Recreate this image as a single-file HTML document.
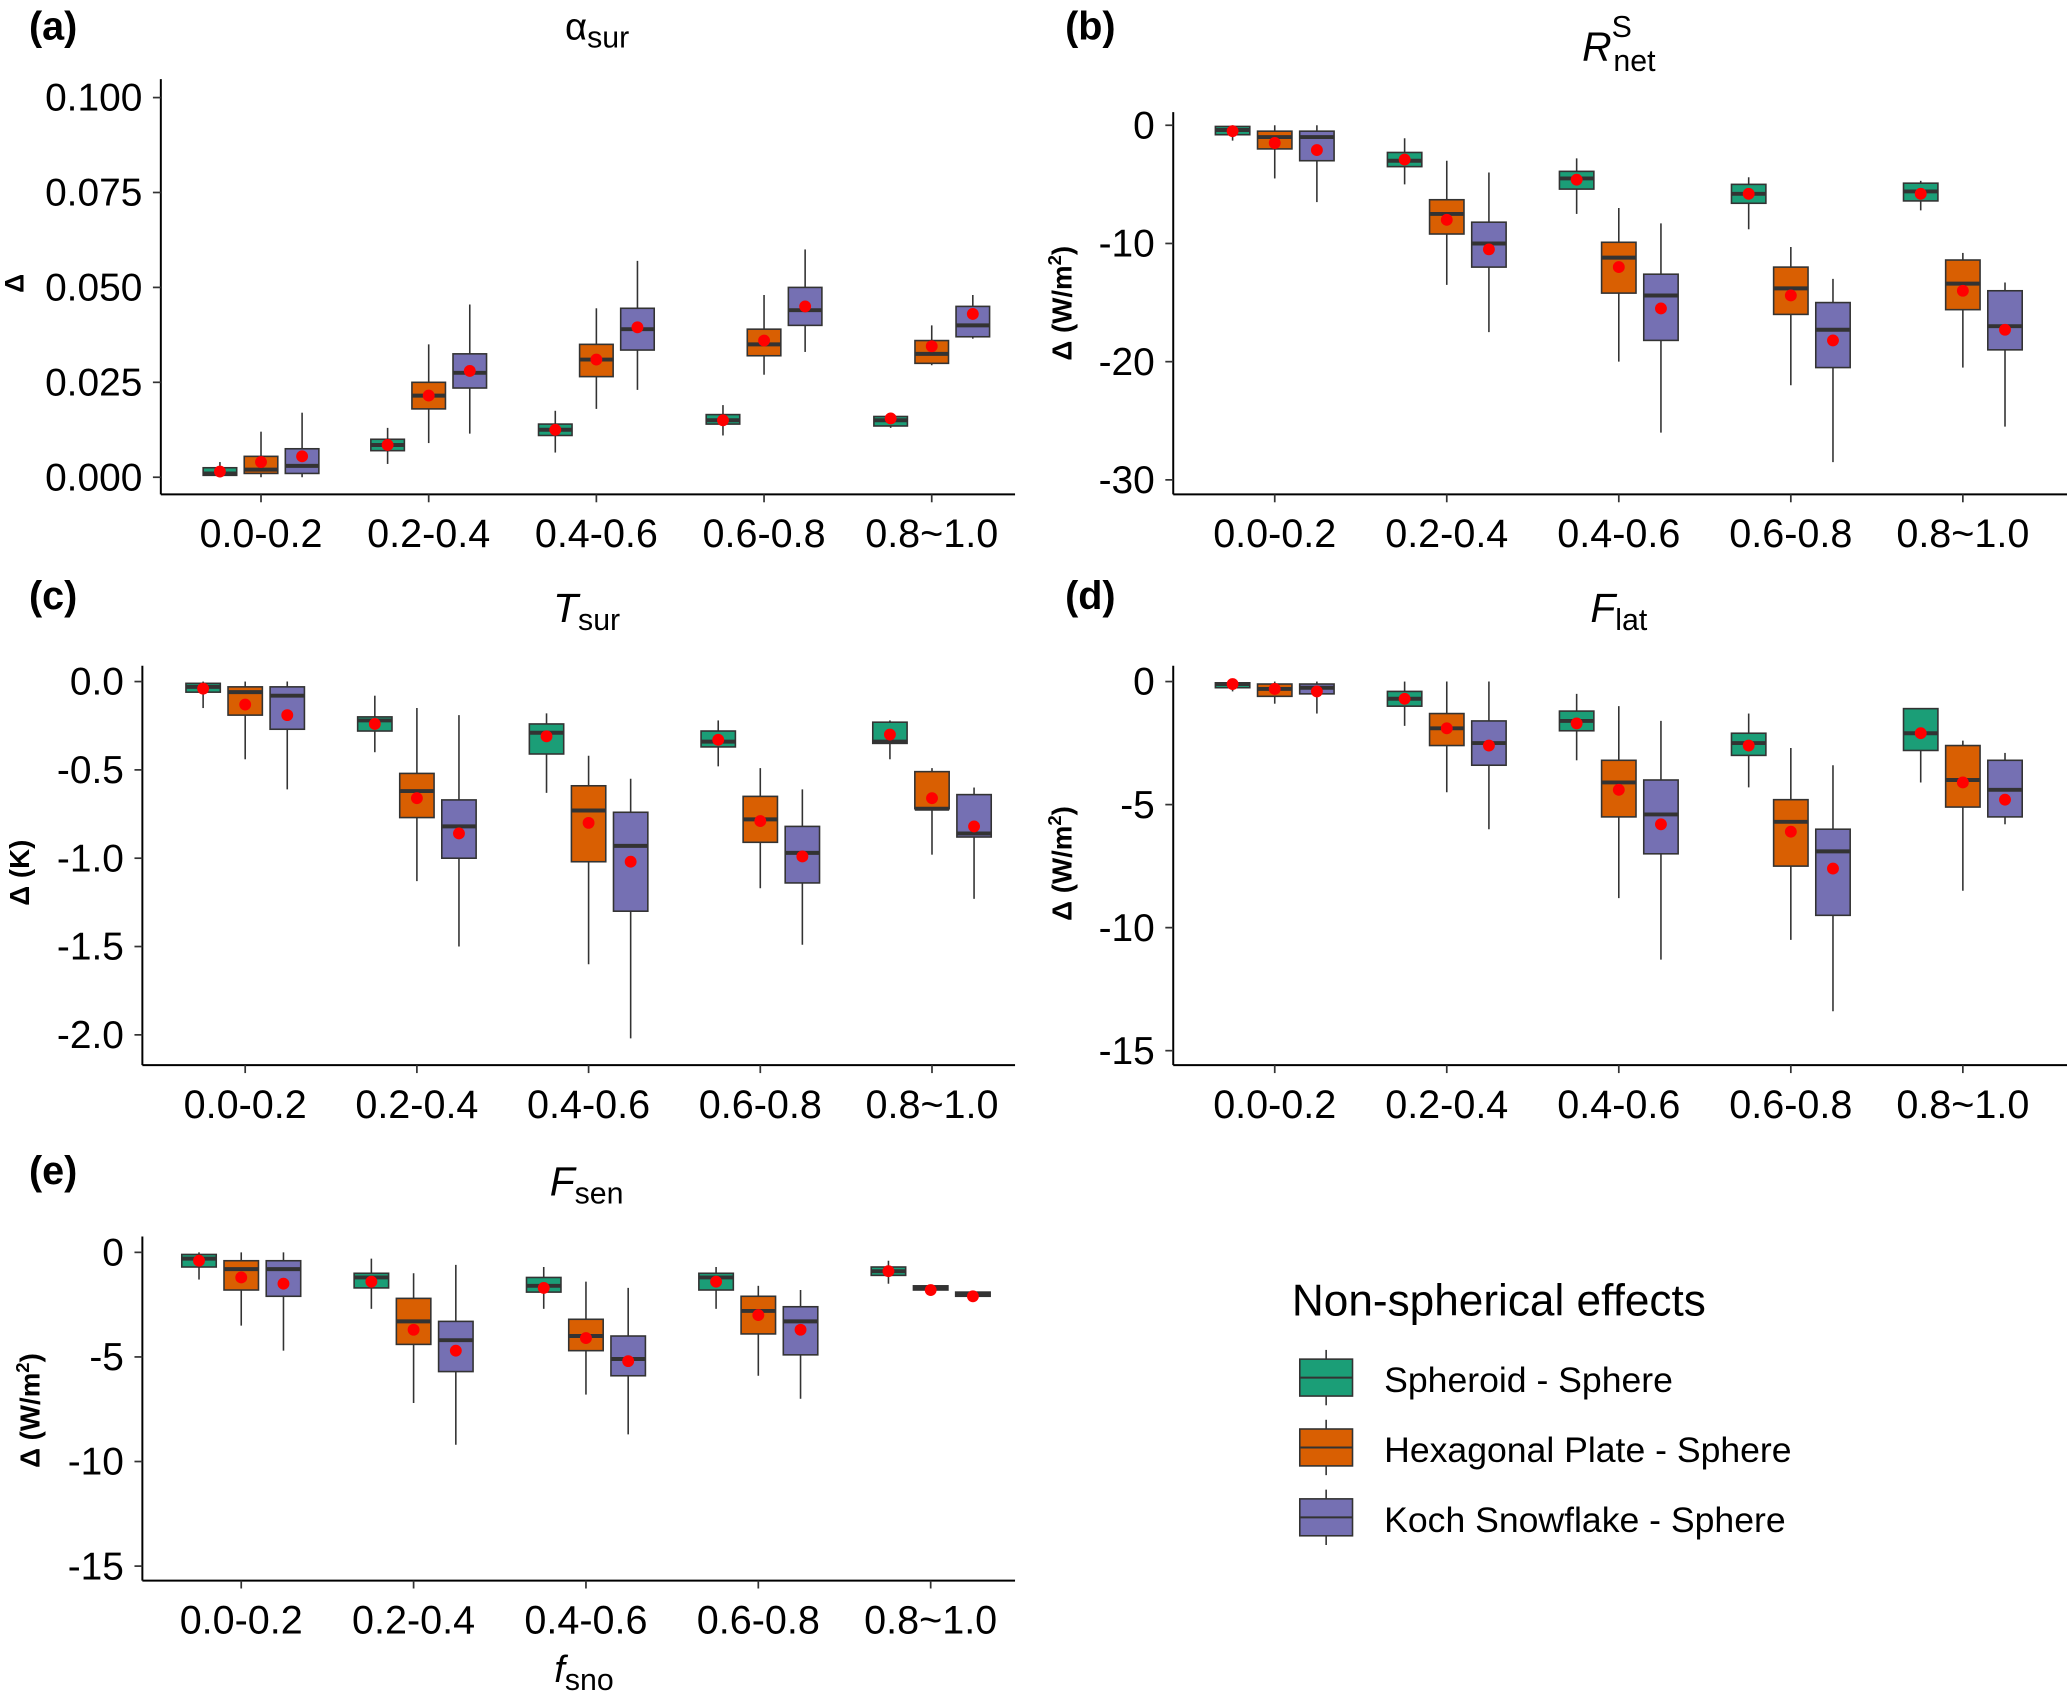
<!DOCTYPE html>
<html><head><meta charset="utf-8"><style>
html,body{margin:0;padding:0;background:#fff}
svg{display:block}
text{font-family:"Liberation Sans",sans-serif;fill:#000}
</style></head><body>
<svg id="fig" xmlns="http://www.w3.org/2000/svg" width="2067" height="1694" viewBox="0 0 1568 1285">
<g id="static">
<text x="22" y="30" font-size="30" font-weight="bold">(a)</text>
<text x="808" y="30" font-size="30" font-weight="bold">(b)</text>
<text x="22" y="462" font-size="30" font-weight="bold">(c)</text>
<text x="808" y="462" font-size="30" font-weight="bold">(d)</text>
<text x="22" y="898" font-size="30" font-weight="bold">(e)</text>
<text x="453" y="30" font-size="29" text-anchor="middle">α<tspan font-size="23" dy="6">sur</tspan></text>
<text x="1228" y="46" font-size="31" text-anchor="middle"><tspan font-style="italic">R</tspan><tspan font-size="23" dy="-18">S</tspan><tspan font-size="23" dx="-14" dy="26">net</tspan></text>
<text x="445" y="472" font-size="31" text-anchor="middle"><tspan font-style="italic">T</tspan><tspan font-size="23" dy="6">sur</tspan></text>
<text x="1228" y="472" font-size="31" text-anchor="middle"><tspan font-style="italic">F</tspan><tspan font-size="23" dy="6">lat</tspan></text>
<text x="445" y="907" font-size="31" text-anchor="middle"><tspan font-style="italic">F</tspan><tspan font-size="23" dy="6">sen</tspan></text>
<text x="443" y="1276" font-size="29" text-anchor="middle"><tspan font-style="italic">f</tspan><tspan font-size="23" dy="6">sno</tspan></text>
<text transform="translate(18,215) rotate(-90)" font-size="20" font-weight="bold" text-anchor="middle">Δ</text>
<text transform="translate(813,230) rotate(-90)" font-size="21" font-weight="bold" text-anchor="middle">Δ (W/m<tspan font-size="14" dy="-8">2</tspan><tspan dy="8">)</tspan></text>
<text transform="translate(22,662) rotate(-90)" font-size="21" font-weight="bold" text-anchor="middle">Δ (K)</text>
<text transform="translate(813,655) rotate(-90)" font-size="21" font-weight="bold" text-anchor="middle">Δ (W/m<tspan font-size="14" dy="-8">2</tspan><tspan dy="8">)</tspan></text>
<text transform="translate(30,1070) rotate(-90)" font-size="21" font-weight="bold" text-anchor="middle">Δ (W/m<tspan font-size="14" dy="-8">2</tspan><tspan dy="8">)</tspan></text>
<g>
<text x="980" y="998" font-size="33.5">Non-spherical effects</text>
<g>
<line x1="1006" y1="1024" x2="1006" y2="1066" stroke="#333" stroke-width="1.2"/>
<rect x="986" y="1031" width="40" height="28" fill="#1b9e77" stroke="#333" stroke-width="1.2"/>
<line x1="986" y1="1045" x2="1026" y2="1045" stroke="#333" stroke-width="1.5"/>
<text x="1050" y="1056" font-size="27">Spheroid - Sphere</text></g>
<g>
<line x1="1006" y1="1077" x2="1006" y2="1119" stroke="#333" stroke-width="1.2"/>
<rect x="986" y="1084" width="40" height="28" fill="#d95f02" stroke="#333" stroke-width="1.2"/>
<line x1="986" y1="1098" x2="1026" y2="1098" stroke="#333" stroke-width="1.5"/>
<text x="1050" y="1109" font-size="27">Hexagonal Plate - Sphere</text></g>
<g>
<line x1="1006" y1="1130" x2="1006" y2="1172" stroke="#333" stroke-width="1.2"/>
<rect x="986" y="1137" width="40" height="28" fill="#7570b3" stroke="#333" stroke-width="1.2"/>
<line x1="986" y1="1151" x2="1026" y2="1151" stroke="#333" stroke-width="1.5"/>
<text x="1050" y="1162" font-size="27">Koch Snowflake - Sphere</text></g>
</g>
</g>
</svg>
<script>
// categories and series: each stat = [lowWhisker, q1, median, q3, highWhisker, mean]
const categories = ["0.0-0.2","0.2-0.4","0.4-0.6","0.6-0.8","0.8~1.0"];
const seriesNames = ["spheroid","hexagonal","koch"];
const seriesColors = ["#1b9e77","#d95f02","#7570b3"];

const aSpheroid = [[0,0.0005,0.001,0.0025,0.004,0.0015],[0.0035,0.007,0.0085,0.010,0.013,0.0085],[0.0065,0.011,0.0125,0.014,0.0175,0.0125],[0.011,0.014,0.015,0.0165,0.019,0.015],[0.013,0.0135,0.015,0.016,0.017,0.0155]];
const aHexagonal = [[0,0.001,0.002,0.0055,0.012,0.004],[0.009,0.018,0.0215,0.025,0.035,0.0215],[0.018,0.0265,0.031,0.035,0.0445,0.031],[0.027,0.032,0.035,0.039,0.048,0.036],[0.0295,0.030,0.0325,0.036,0.040,0.0345]];
const aKoch = [[0,0.001,0.003,0.0075,0.017,0.0055],[0.0115,0.0235,0.0275,0.0325,0.0455,0.028],[0.023,0.0335,0.039,0.0445,0.057,0.0395],[0.033,0.040,0.044,0.050,0.060,0.045],[0.0365,0.037,0.040,0.045,0.048,0.043]];
const aTicks = [0,0.025,0.05,0.075,0.1];
const aTickLabels = ["0.000","0.025","0.050","0.075","0.100"];

const bSpheroid = [[-1.3,-0.8,-0.4,-0.1,0,-0.5],[-5,-3.5,-3.0,-2.3,-1.1,-2.9],[-7.5,-5.4,-4.5,-3.9,-2.8,-4.6],[-8.8,-6.6,-5.8,-5.0,-4.4,-5.8],[-7.2,-6.4,-5.6,-4.9,-4.7,-5.8]];
const bHexagonal = [[-4.5,-2.0,-1.0,-0.5,0,-1.5],[-13.5,-9.2,-7.5,-6.3,-3.0,-8.0],[-20,-14.2,-11.2,-9.9,-7,-12],[-22,-16,-13.8,-12,-10.3,-14.4],[-20.5,-15.6,-13.4,-11.4,-10.8,-14]];
const bKoch = [[-6.5,-3.0,-1.0,-0.5,0,-2.1],[-17.5,-12,-10,-8.2,-4,-10.5],[-26,-18.2,-14.4,-12.6,-8.3,-15.5],[-28.5,-20.5,-17.3,-15,-13,-18.2],[-25.5,-19,-17,-14,-13.3,-17.3]];
const bTicks = [-30,-20,-10,0];
const bTickLabels = ["-30","-20","-10","0"];

const cSpheroid = [[-0.15,-0.06,-0.03,-0.01,0,-0.04],[-0.4,-0.28,-0.22,-0.2,-0.08,-0.24],[-0.63,-0.41,-0.29,-0.24,-0.18,-0.31],[-0.48,-0.37,-0.34,-0.28,-0.22,-0.33],[-0.44,-0.35,-0.34,-0.23,-0.22,-0.30]];
const cHexagonal = [[-0.44,-0.19,-0.06,-0.03,0,-0.13],[-1.13,-0.77,-0.62,-0.52,-0.15,-0.66],[-1.6,-1.02,-0.73,-0.59,-0.42,-0.80],[-1.17,-0.91,-0.78,-0.65,-0.49,-0.79],[-0.98,-0.72,-0.72,-0.51,-0.49,-0.66]];
const cKoch = [[-0.61,-0.27,-0.08,-0.03,0,-0.19],[-1.5,-1.0,-0.82,-0.67,-0.19,-0.86],[-2.02,-1.3,-0.93,-0.74,-0.55,-1.02],[-1.49,-1.14,-0.97,-0.82,-0.61,-0.99],[-1.23,-0.88,-0.86,-0.64,-0.6,-0.82]];
const cTicks = [-2,-1.5,-1,-0.5,0];
const cTickLabels = ["-2.0","-1.5","-1.0","-0.5","0.0"];

const dSpheroid = [[-0.4,-0.25,-0.1,-0.05,0,-0.1],[-1.8,-1.0,-0.7,-0.4,0,-0.7],[-3.2,-2.0,-1.6,-1.2,-0.5,-1.7],[-4.3,-3.0,-2.5,-2.1,-1.3,-2.6],[-4.1,-2.8,-2.1,-1.1,-1.1,-2.1]];
const dHexagonal = [[-0.9,-0.6,-0.3,-0.1,0,-0.3],[-4.5,-2.6,-1.9,-1.3,0,-1.9],[-8.8,-5.5,-4.1,-3.2,-1,-4.4],[-10.5,-7.5,-5.7,-4.8,-2.7,-6.1],[-8.5,-5.1,-4.0,-2.6,-2.4,-4.1]];
const dKoch = [[-1.3,-0.5,-0.25,-0.1,0,-0.4],[-6,-3.4,-2.5,-1.6,0,-2.6],[-11.3,-7.0,-5.4,-4.0,-1.6,-5.8],[-13.4,-9.5,-6.9,-6.0,-3.4,-7.6],[-5.8,-5.5,-4.4,-3.2,-2.9,-4.8]];
const dTicks = [-15,-10,-5,0];
const dTickLabels = ["-15","-10","-5","0"];

const eSpheroid = [[-1.3,-0.7,-0.3,-0.1,0,-0.4],[-2.7,-1.7,-1.2,-1.0,-0.3,-1.4],[-2.7,-1.9,-1.6,-1.2,-0.7,-1.7],[-2.7,-1.8,-1.2,-1.0,-0.7,-1.4],[-1.5,-1.1,-0.9,-0.7,-0.4,-0.9]];
const eHexagonal = [[-3.5,-1.8,-0.8,-0.4,0,-1.2],[-7.2,-4.4,-3.3,-2.2,-1,-3.7],[-6.8,-4.7,-4.0,-3.2,-1.4,-4.1],[-5.9,-3.9,-2.8,-2.1,-1.6,-3.0],[-1.9,-1.8,-1.7,-1.6,-1.6,-1.8]];
const eKoch = [[-4.7,-2.1,-0.8,-0.4,0,-1.5],[-9.2,-5.7,-4.2,-3.3,-0.6,-4.7],[-8.7,-5.9,-5.1,-4.0,-1.7,-5.2],[-7.0,-4.9,-3.3,-2.6,-1.8,-3.7],[-2.2,-2.1,-2.0,-1.9,-1.9,-2.1]];
const eTicks = [-15,-10,-5,0];
const eTickLabels = ["-15","-10","-5","0"];

const NS = "http://www.w3.org/2000/svg";
const svg = document.getElementById("fig");
function mk(tag, attrs, parent){ const e=document.createElementNS(NS,tag); for(const k in attrs) e.setAttribute(k,attrs[k]); parent.appendChild(e); return e; }

function panel(id, series, ticks, tickLabels, cfg){
  const g = mk("g",{},svg);
  
  
  const y = v => cfg.y0 + (v - cfg.v0) * (cfg.y1 - cfg.y0) / (cfg.v1 - cfg.v0);
  const x = i => cfg.xc0 + i * cfg.step;
  const ya = mk("line",{x1:cfg.ax,y1:cfg.top,x2:cfg.ax,y2:cfg.bottom,stroke:"#000","stroke-width":1.5},g);
  
  
  const xa = mk("line",{x1:cfg.ax,y1:cfg.bottom,x2:cfg.right,y2:cfg.bottom,stroke:"#000","stroke-width":1.5},g);
  
  
  ticks.forEach((t,i)=>{
    mk("line",{x1:cfg.ax-6,y1:y(t),x2:cfg.ax,y2:y(t),stroke:"#333","stroke-width":1.3},g);
    const tl = mk("text",{x:cfg.ax-14,y:y(t)+10,"font-size":29.5,"text-anchor":"end",fill:"#111"},g);
    tl.textContent = tickLabels[i];
    
    
  });
  categories.forEach((c,i)=>{
    mk("line",{x1:x(i),y1:cfg.bottom,x2:x(i),y2:cfg.bottom+6,stroke:"#333","stroke-width":1.3},g);
    const tl = mk("text",{x:x(i),y:cfg.bottom+40,"font-size":30,"text-anchor":"middle",fill:"#111"},g);
    tl.textContent = c;
    
    
  });
  const off = [-cfg.step*0.245, 0, cfg.step*0.245];
  const bw = cfg.step*0.2;
  series.forEach((s,si)=>{
    s.forEach((d,i)=>{
      const cx = x(i)+off[si];
      const bg = mk("g",{},g);
      
      
      mk("line",{x1:cx,y1:y(d[0]),x2:cx,y2:y(d[4]),stroke:"#333","stroke-width":1.2},bg);
      const top = Math.min(y(d[1]),y(d[3])), h = Math.abs(y(d[3])-y(d[1]));
      mk("rect",{x:cx-bw/2,y:top,width:bw,height:Math.max(h,1),fill:seriesColors[si],stroke:"#333","stroke-width":1.2},bg);
      mk("line",{x1:cx-bw/2,y1:y(d[2]),x2:cx+bw/2,y2:y(d[2]),stroke:"#333","stroke-width":3},bg);
      const m = mk("circle",{cx:cx,cy:y(d[5]),r:4.5,fill:"#ff0000"},bg);
      
      
    });
  });
}

panel("a",[aSpheroid,aHexagonal,aKoch],aTicks,aTickLabels,{ax:122,top:60,bottom:375,right:770,v0:0,y0:362,v1:0.1,y1:74,xc0:198,step:127.2});
panel("b",[bSpheroid,bHexagonal,bKoch],bTicks,bTickLabels,{ax:890,top:85,bottom:375,right:1568,v0:0,y0:95,v1:-30,y1:364,xc0:967,step:130.5});
panel("c",[cSpheroid,cHexagonal,cKoch],cTicks,cTickLabels,{ax:108,top:505,bottom:808,right:770,v0:0,y0:517,v1:-2,y1:785,xc0:186,step:130.25});
panel("d",[dSpheroid,dHexagonal,dKoch],dTicks,dTickLabels,{ax:890,top:505,bottom:808,right:1568,v0:0,y0:517,v1:-15,y1:797,xc0:967,step:130.5});
panel("e",[eSpheroid,eHexagonal,eKoch],eTicks,eTickLabels,{ax:108,top:938,bottom:1199,right:770,v0:0,y0:950,v1:-15,y1:1188,xc0:183,step:130.75});
</script>
</body></html>
